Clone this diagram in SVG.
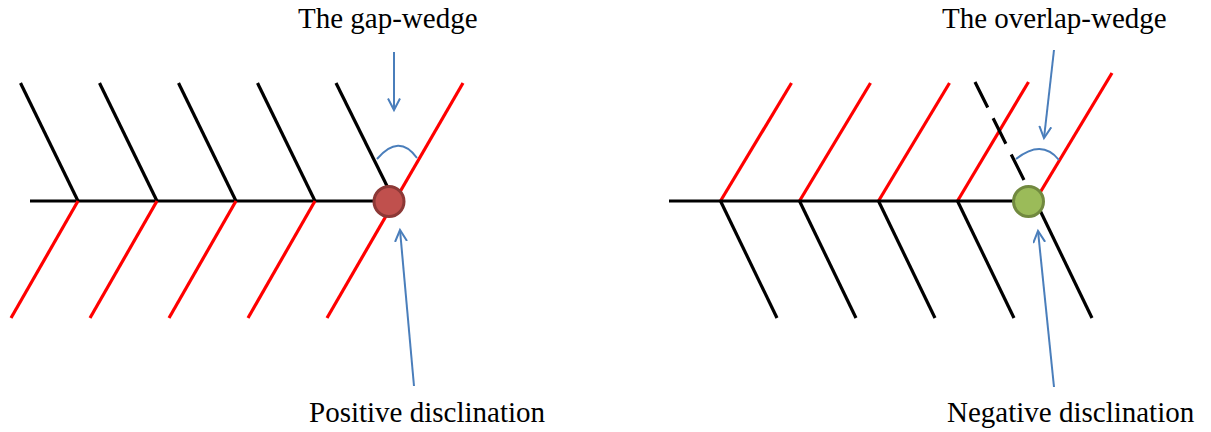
<svg xmlns="http://www.w3.org/2000/svg" width="1211" height="432" viewBox="0 0 1211 432">
  <style>
    .blk { stroke: #000; stroke-width: 3.2; fill: none; stroke-linecap: butt; }
    .red { stroke: #FF0000; stroke-width: 3.2; fill: none; stroke-linecap: butt; }
    .dash { stroke-dasharray: 28.5 12; }
    .arr { stroke: #4A7EBB; stroke-width: 2; fill: none; }
    .lbl { font-family: "Liberation Serif", "Times New Roman", serif; font-size: 29px; fill: #000; }
  </style>
  <defs>
    <marker id="ah" markerUnits="userSpaceOnUse" markerWidth="16" markerHeight="16" refX="12" refY="6.5" orient="auto">
      <path d="M0.5,0.5 L12,6.5 L0.5,12.5" fill="none" stroke="#4A7EBB" stroke-width="2"/>
    </marker>
  </defs>
  <rect width="1211" height="432" fill="#fff"/>

  <g id="left-lattice">
    <line class="blk" x1="30" y1="201" x2="389" y2="201"/>
    <line class="blk" x1="20.5" y1="83" x2="78" y2="201"/>
    <line class="blk" x1="99.5" y1="83" x2="157" y2="201"/>
    <line class="blk" x1="178.5" y1="83" x2="236" y2="201"/>
    <line class="blk" x1="257.5" y1="83" x2="315" y2="201"/>
    <line class="blk" x1="336" y1="83" x2="389" y2="190"/>
    <line class="red" x1="78" y1="201" x2="11" y2="318"/>
    <line class="red" x1="157" y1="201" x2="90" y2="318"/>
    <line class="red" x1="236" y1="201" x2="169" y2="318"/>
    <line class="red" x1="315" y1="201" x2="248" y2="318"/>
    <line class="red" x1="463" y1="83" x2="327" y2="318"/>
  </g>

  <g id="right-lattice">
    <line class="red" x1="720.5" y1="201" x2="791.5" y2="83"/>
    <line class="red" x1="799.5" y1="201" x2="870.5" y2="83"/>
    <line class="red" x1="878.5" y1="201" x2="949.5" y2="83"/>
    <line class="red" x1="957.5" y1="201" x2="1028.5" y2="82"/>
    <line class="red" x1="1035" y1="201" x2="1112" y2="73"/>
    <line class="blk" x1="669" y1="201" x2="1028" y2="201"/>
    <line class="blk" x1="720.5" y1="201" x2="777" y2="318"/>
    <line class="blk" x1="799.5" y1="201" x2="856" y2="318"/>
    <line class="blk" x1="878.5" y1="201" x2="935" y2="318"/>
    <line class="blk" x1="957.5" y1="201" x2="1014" y2="318"/>
    <line class="blk" x1="1035.5" y1="201" x2="1092" y2="318"/>
    <line class="blk dash" x1="975" y1="82" x2="1024" y2="180"/>
  </g>

  <g id="positive-disclination">
    <circle cx="389" cy="201.5" r="15" fill="#C0504D" stroke="#8C3836" stroke-width="3"/>
  </g>
  <g id="negative-disclination">
    <circle cx="1028.5" cy="201.5" r="15" fill="#9BBB59" stroke="#71893F" stroke-width="3"/>
  </g>

  <g id="gap-wedge">
    <path class="arr" d="M377,159 Q399,133 417,158"/>
  </g>
  <g id="overlap-wedge">
    <path class="arr" d="M1016,159 Q1042,138.5 1059,160"/>
  </g>

  <g id="connectors">
    <line class="arr" x1="394" y1="52" x2="394" y2="110" marker-end="url(#ah)"/>
    <line class="arr" x1="1054" y1="50" x2="1044" y2="138" marker-end="url(#ah)"/>
    <line class="arr" x1="414" y1="386" x2="400" y2="230" marker-end="url(#ah)"/>
    <line class="arr" x1="1054" y1="387" x2="1038" y2="231" marker-end="url(#ah)"/>
  </g>

  <g id="labels">
    <text class="lbl" x="298" y="28">The gap-wedge</text>
    <text class="lbl" x="942" y="28">The overlap-wedge</text>
    <text class="lbl" x="309" y="422">Positive disclination</text>
    <text class="lbl" x="947" y="422">Negative disclination</text>
  </g>
</svg>
